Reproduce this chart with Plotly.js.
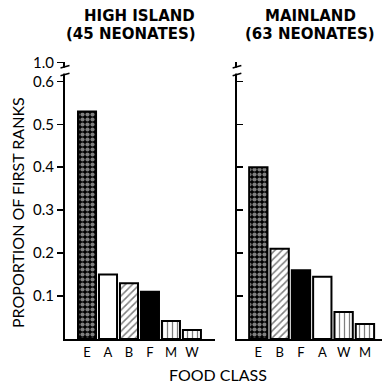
<!DOCTYPE html>
<html><head><meta charset="utf-8">
<script src="https://cdn.plot.ly/plotly-3.0.1.min.js"></script>
<style>html,body{margin:0;padding:0;background:#fff}#c{width:382px;height:385px}</style>
</head><body><div id="c"></div>
<script>
const islandCats = ['E','A','B','F','M','W'];
const islandVals = [0.53, 0.15, 0.13, 0.11, 0.042, 0.021];
const mainCats = ['E','B','F','A','W','M'];
const mainVals = [0.40, 0.21, 0.16, 0.145, 0.063, 0.035];
const tickVals = [0.1, 0.2, 0.3, 0.4, 0.5, 0.6, 0.644];
const tickText = ['0.1','0.2','0.3','0.4','0.5','0.6','1.0'];
const panelTitles = [['HIGH ISLAND', '(45 NEONATES)'], ['MAINLAND', '(63 NEONATES)']];

const patterns = {
  E: {color: 'black', pattern: {shape: '.', fgcolor: 'white', size: 5, solidity: 0.55, fillmode: 'overlay'}},
  A: {color: 'white'},
  B: {color: 'white', pattern: {shape: '/', fgcolor: 'black', size: 5, solidity: 0.3, fillmode: 'overlay'}},
  F: {color: 'black'},
  M: {color: 'white', pattern: {shape: '|', fgcolor: 'black', size: 5, solidity: 0.25, fillmode: 'overlay'}},
  W: {color: 'white', pattern: {shape: '|', fgcolor: 'black', size: 5, solidity: 0.25, fillmode: 'overlay'}}
};
function barTraces(cats, vals, xa, ya) {
  return cats.map((c, i) => {
    const p = patterns[c];
    const marker = {color: p.color, line: {color: 'black', width: 2}};
    if (p.pattern) marker.pattern = p.pattern;
    return {type: 'bar', x: [c], y: [vals[i]], xaxis: xa, yaxis: ya, width: 0.86,
      marker: marker, showlegend: false, hoverinfo: 'none'};
  });
}
const F = 'Lato, "DejaVu Sans", sans-serif';
const FT = '"DejaVu Sans", sans-serif';
const yBase = {
  range: [0, 0.645], tickvals: tickVals, showgrid: false, zeroline: false,
  showline: true, linecolor: 'black', linewidth: 2, ticklen: 6, tickwidth: 1.5, tickcolor: 'black'
};
const xBase = {
  type: 'category', showgrid: false, zeroline: false, showline: true, linecolor: 'black', linewidth: 2,
  ticks: '', tickfont: {family: F, size: 13, color: 'black'}
};
function breakShapes(xref) {
  return [
    {type: 'rect', xref: xref + ' domain', yref: 'y', x0: -0.03, x1: 0.03, y0: 0.618, y1: 0.632, fillcolor: 'white', line: {width: 0}},
    {type: 'line', xref: xref + ' domain', yref: 'y', x0: -0.03, x1: 0.03, y0: 0.613, y1: 0.619, line: {color: 'black', width: 1.5}},
    {type: 'line', xref: xref + ' domain', yref: 'y', x0: -0.03, x1: 0.03, y0: 0.631, y1: 0.637, line: {color: 'black', width: 1.5}}
  ];
}
function titleAnn(text, xpx, ypx) {
  return {text: text, xref: 'paper', yref: 'paper', x: xpx/382, xanchor: 'center', y: 1, yshift: 62 - ypx,
    yanchor: 'middle', showarrow: false, font: {family: FT, size: 15, color: 'black', weight: 'bold'}};
}
const layout = {
  width: 382, height: 385, margin: {l: 0, r: 0, t: 62, b: 46},
  paper_bgcolor: 'white', plot_bgcolor: 'white', barmode: 'overlay',
  font: {family: F, color: 'black'},
  xaxis: Object.assign({}, xBase, {domain: [65/382, 215/382], range: [-1.05, 6.1], anchor: 'y',
    categoryorder: 'array', categoryarray: islandCats}),
  yaxis: Object.assign({}, yBase, {domain: [0, 1], anchor: 'x', ticks: 'outside', ticktext: tickText,
    tickfont: {family: F, size: 15, color: 'black'}}),
  xaxis2: Object.assign({}, xBase, {domain: [237/382, 1], range: [-1.0, 5.8], anchor: 'y2',
    categoryorder: 'array', categoryarray: mainCats}),
  yaxis2: Object.assign({}, yBase, {domain: [0, 1], anchor: 'x2', ticks: 'inside', showticklabels: false}),
  shapes: breakShapes('x').concat(breakShapes('x2')),
  annotations: [
    titleAnn(panelTitles[0][0], 139, 16),
    titleAnn(panelTitles[0][1], 131, 34),
    titleAnn(panelTitles[1][0], 310, 16),
    titleAnn(panelTitles[1][1], 310, 34),
    {text: 'PROPORTION OF FIRST RANKS', xref: 'paper', yref: 'paper', x: 17/382, xanchor: 'center', y: (339-213)/277, yanchor: 'middle',
     textangle: -90, showarrow: false, font: {family: F, size: 16, color: 'black'}},
    {text: 'FOOD CLASS', xref: 'paper', yref: 'paper', x: 218/382, xanchor: 'center', y: 0, yshift: -35, yanchor: 'middle', showarrow: false,
     font: {family: F, size: 16, color: 'black'}}
  ]
};
Plotly.newPlot('c', barTraces(islandCats, islandVals, 'x', 'y').concat(barTraces(mainCats, mainVals, 'x2', 'y2')), layout, {staticPlot: true});
</script></body></html>
